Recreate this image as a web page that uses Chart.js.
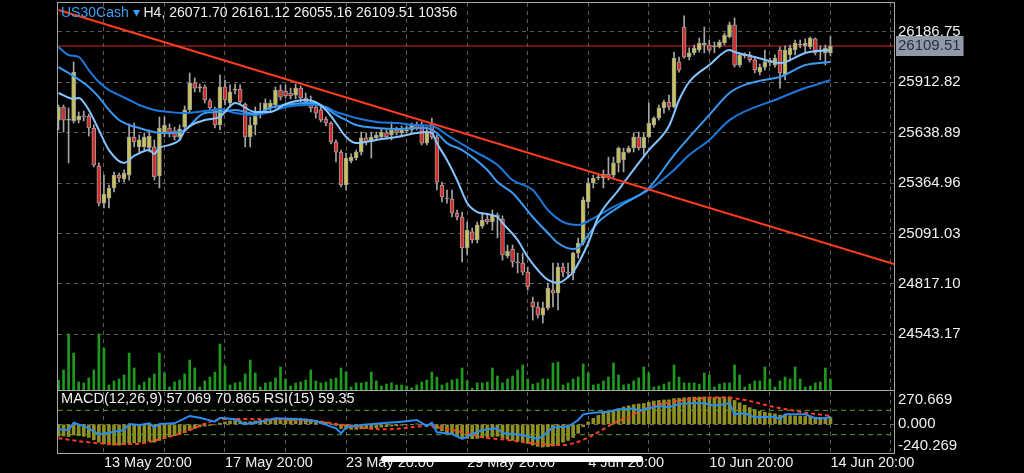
<!DOCTYPE html>
<html><head><meta charset="utf-8">
<script src="https://cdn.jsdelivr.net/npm/chart.js@4/dist/chart.umd.min.js"></script>
<style>
html,body{margin:0;padding:0;background:#000;width:1024px;height:473px;overflow:hidden}
#wrap{position:relative;width:1024px;height:473px;background:#000}
canvas{position:absolute;left:0}
#cMain{top:0}
#cMacd{top:391px}
#frame{position:absolute;left:57px;top:2px;width:838px;height:452px;box-sizing:border-box;border:1px solid #a8a8a8;pointer-events:none}
#sep{position:absolute;left:57px;top:390px;width:838px;height:1px;background:#a8a8a8}
#home{position:absolute;left:381px;top:456px;width:262px;height:6px;border-radius:3px;background:#fff}
</style></head><body>
<div id="wrap">
<canvas id="cMain" width="1024" height="392"></canvas>
<canvas id="cMacd" width="1024" height="82"></canvas>
<div id="frame"></div><div id="sep"></div><div id="home"></div>
</div>
<script>
// ---------- data (H4 bars, index 0 = first visible bar) ----------
const symbol = 'US30Cash';
const timeframe = 'H4';
const timeLabels = ['13 May 20:00','17 May 20:00','23 May 20:00','29 May 20:00','4 Jun 20:00','10 Jun 20:00','14 Jun 20:00'];
const timeLabelBars = [9,33,57,81,105,129,153];
const gridBars = [9,21,33,45,57,69,81,93,105,117,129,141,153,165];
const priceTicks = [26186.75,25912.82,25638.89,25364.96,25091.03,24817.10,24543.17];
const macdTicks = [270.669,0,-240.269];

const open = [25707,25778,25707,25702,25707,25729,25729,25664,25457,25256,
25283,25338,25408,25387,25408,25615,25561,25561,25555,25561,
25403,25637,25664,25648,25615,25669,25762,25909,25881,25887,
25811,25762,25680,25887,25800,25870,25876,25794,25615,25680,
25735,25762,25773,25789,25870,25865,25854,25843,25881,25827,
25805,25778,25762,25713,25691,25588,25533,25354,25485,25501,
25533,25610,25588,25610,25615,25637,25626,25653,25637,25648,
25653,25680,25680,25582,25686,25615,25354,25283,25278,25202,
25180,25012,25099,25055,25131,25169,25153,25191,25169,24968,
25006,24936,24930,24881,24718,24691,24647,24686,24783,24767,
24908,24881,24876,24984,25039,25262,25365,25392,25392,25414,
25408,25474,25490,25533,25555,25615,25555,25615,25680,25718,
25773,25805,25778,26023,26213,26050,26072,26088,26115,26115,
26104,26104,26126,26159,26224,26006,26055,26061,26034,25968,
25995,26023,26006,26088,25952,26061,26088,26115,26110,26104,
26148,26077,26072,26071.70];
const high = [25789,25789,25773,26023,25751,25756,25740,25680,25474,25408,
25354,25425,25419,25436,25686,25691,25626,25637,25653,25599,
25724,25724,25686,25669,25680,25784,25963,25936,25903,25898,
25822,25778,25952,25925,25898,25903,25898,25800,25724,25778,
25800,25822,25816,25887,25898,25898,25881,25903,25892,25854,
25838,25805,25789,25724,25697,25599,25544,25528,25523,25544,
25642,25637,25642,25642,25658,25653,25697,25669,25675,25675,
25691,25697,25697,25669,25718,25626,25370,25327,25327,25218,
25207,25153,25120,25153,25202,25191,25218,25202,25186,25028,
25028,24984,24984,24908,24745,24718,24718,24821,24930,24930,
24930,24930,24990,25066,25289,25392,25408,25414,25436,25506,
25506,25561,25555,25566,25637,25642,25637,25800,25724,25789,
25816,25843,26077,26050,26273,26099,26115,26153,26213,26142,
26131,26142,26180,26240,26262,26072,26072,26077,26050,26012,
26088,26044,26061,26104,26110,26115,26142,26142,26148,26159,
26153,26110,26115,26161.12];
const low = [25653,25642,25474,25691,25691,25702,25620,25452,25240,25229,
25229,25316,25370,25370,25381,25561,25533,25544,25533,25381,
25338,25615,25615,25599,25599,25653,25751,25860,25860,25800,
25762,25664,25653,25789,25778,25849,25789,25561,25561,25626,
25718,25745,25751,25773,25816,25827,25822,25822,25805,25789,
25751,25718,25697,25675,25577,25479,25343,25327,25474,25490,
25517,25572,25501,25599,25604,25604,25599,25626,25626,25637,
25642,25653,25572,25572,25604,25327,25262,25256,25180,25164,
24936,24974,25039,25039,25120,25142,25109,25066,24946,24957,
24908,24876,24865,24783,24620,24631,24604,24675,24691,24675,
24854,24849,24838,24957,25028,25229,25338,25381,25338,25381,
25392,25425,25425,25528,25533,25544,25517,25610,25669,25707,
25745,25762,25773,25968,26044,26034,26061,26077,26072,26077,
26072,26099,26115,26153,25995,25995,26044,26023,25963,25952,
25979,26001,25995,25881,25925,26034,26061,26099,26077,26093,
26061,26034,26006,26055.16];
const close = [25778,25707,25713,25968,25729,25724,25664,25463,25256,25305,
25338,25408,25392,25419,25615,25588,25599,25615,25620,25398,
25664,25680,25631,25615,25658,25762,25909,25881,25887,25816,
25773,25680,25887,25816,25860,25876,25805,25615,25680,25729,
25756,25800,25800,25870,25832,25838,25838,25881,25827,25805,
25773,25745,25707,25691,25588,25533,25354,25501,25506,25533,
25610,25588,25615,25626,25642,25615,25653,25637,25653,25653,
25680,25664,25582,25642,25615,25370,25289,25278,25202,25180,
25012,25109,25055,25137,25164,25153,25191,25180,24974,24995,
24936,24930,24881,24800,24691,24647,24686,24794,24767,24908,
24881,24876,24984,25039,25273,25365,25392,25398,25414,25398,
25474,25555,25533,25555,25615,25555,25615,25691,25718,25773,
25805,25778,26044,25979,26050,26072,26099,26126,26126,26088,
26110,26131,26169,26224,26006,26061,26061,26034,25979,25995,
26023,26017,26044,25963,26088,26099,26126,26120,26126,26153,
26072,26082,26099,26109.51];
const volume = [9400,18800,52700,34800,7500,6600,11300,18800,52700,39500,
4700,8500,10400,14100,34800,20700,4700,7500,11300,15100,
34800,16000,2800,7500,9400,15100,28200,20700,2800,8500,
12200,16900,43300,22600,4700,6600,7500,15100,28200,16000,
2800,6600,7500,11300,21600,10400,3800,6600,7500,9400,
18800,8500,6600,7500,10400,11300,20700,16900,2800,6600,
6600,7500,16900,8500,3800,5600,6600,4700,4700,3800,
1900,4700,7500,9400,16900,12200,4700,6600,9400,10400,
20700,8500,1900,6600,6600,7500,20700,13200,6600,10400,
13200,18800,23500,10400,5600,6600,10400,10400,25400,26300,
4700,6600,10400,12200,24500,16000,4700,5600,8500,12200,
25400,14100,4700,5600,8500,11300,21600,16000,2800,3800,
5600,7500,23500,12200,6600,6600,6600,5600,16000,14100,
2800,5600,6600,6600,23500,14100,2800,5600,8500,8500,
21600,10400,2800,8500,12200,10400,21600,10400,2800,3800,
6600,7500,20700,10356];

// moving averages (values read at selected bars)
const maFastIdx = [0,3,4,6,8,10,13,15,18,19,20,22,24,25,29,32,35,39,42,45,49,51,53,55,57,59,63,67,71,73,74,75,77,79,81,83,85,87,88,91,93,95,97,99,101,102,105,107,111,112,117,121,123,125,129,133,134,138,141,143,148,150,153];
const maFastVal = [25854,25822,25827,25762,25653,25544,25474,25512,25544,25523,25555,25572,25599,25648,25707,25724,25800,25751,25751,25794,25816,25805,25762,25691,25615,25582,25599,25615,25637,25642,25637,25582,25490,25381,25256,25207,25196,25180,25148,25055,24963,24892,24838,24821,24854,24881,25039,25180,25327,25365,25544,25675,25816,25914,26006,26088,26077,26050,26028,26017,26072,26082,26088];
const maMidIdx = [0,2,6,8,10,12,14,16,18,20,22,24,25,29,32,35,39,42,45,49,51,53,55,57,59,63,67,71,73,74,75,77,80,85,87,90,94,97,99,102,103,105,107,109,112,117,122,129,133,136,142,143,148,153];
const maMidVal = [25995,25963,25887,25832,25762,25707,25680,25664,25648,25637,25637,25642,25653,25745,25751,25762,25740,25773,25789,25800,25800,25773,25735,25707,25680,25664,25658,25664,25664,25653,25637,25582,25544,25436,25370,25311,25180,25093,25039,25006,25012,25082,25153,25197,25251,25338,25517,25735,25854,25898,25936,25941,26006,26023];
const maSlowIdx = [0,2,4,6,8,10,12,14,16,19,22,25,29,32,35,39,42,45,49,51,53,55,57,59,63,67,71,74,75,77,82,87,90,94,97,100,103,105,110,117,122,125,129,133,143,148,150,153];
const maSlowVal = [26104,26061,26050,25979,25914,25870,25843,25816,25789,25762,25751,25745,25756,25767,25745,25735,25751,25778,25789,25789,25778,25751,25735,25718,25697,25691,25680,25675,25664,25626,25544,25463,25381,25327,25218,25153,25137,25158,25235,25327,25436,25517,25599,25707,25827,25881,25898,25925];

// trend line anchors and current price
const trendIdx = [0,165.6];
const trendVal = [26305,24925];
const lastPrice = 26109.51;

// MACD(12,26,9) main (histogram), signal, RSI(15)
const macdHist = [-100,-98,-102,-90,-95,-100,-110,-130,-150,-165,
-172,-175,-175,-172,-160,-155,-150,-145,-140,-150,
-135,-120,-105,-95,-85,-70,-50,-35,-22,-15,
-10,-5,10,20,28,32,30,20,22,28,
32,38,42,48,50,50,50,52,50,46,
40,34,26,18,5,-10,-35,-40,-42,-42,
-38,-35,-32,-28,-24,-20,-15,-12,-8,-5,
0,2,-5,-8,-10,-35,-55,-70,-85,-95,
-115,-118,-120,-118,-112,-108,-102,-100,-115,-125,
-135,-142,-150,-160,-175,-185,-190,-188,-182,-172,
-150,-135,-110,-75,-20,20,50,75,95,105,
115,130,145,155,165,170,175,185,195,200,
205,205,215,218,222,225,228,228,230,228,
225,225,228,230,200,180,160,140,125,110,
102,95,88,78,76,72,70,68,66,64,
60,58,57,57.069];
const signalIdx = [0,8,15,18,22,26,30,32,35,41,46,52,55,58,61,65,68,73,75,78,81,84,88,90,96,100,103,106,110,113,116,120,126,131,136,141,145,149,153];
const signalVal = [-117,-159,-165,-146,-104,-48,22,42,44,42,36,22,3,-14,-34,-42,-34,-14,-25,-48,-75,-109,-126,-137,-168,-173,-146,-90,8,64,126,176,212,226,204,153,120,92,70.865];
const rsiIdx = [0,2,3,5,6,8,10,13,14,16,18,19,20,23,26,28,31,32,35,37,40,43,47,51,55,56,57,60,64,68,71,73,74,75,78,80,82,84,87,88,90,92,95,96,98,99,100,101,103,104,106,109,111,113,114,115,117,119,121,123,126,128,130,133,134,136,138,142,143,144,148,150,152,153];
const rsiVal = [38.9,37.7,49.7,44,40,30.7,33.3,37.7,47.5,45.9,48.7,42.1,47.5,48.7,60.7,57.9,51.3,57.9,55.2,47,51.3,56.9,55.7,52.5,40.5,32.3,42.1,45.9,48.7,51.3,54.1,44.3,49.7,33.9,31.1,23,30.7,37.7,40.5,32.3,31.1,29.5,23,27.9,42.1,42.1,43.1,43.1,54.1,63.4,66.1,67.7,71.6,71.6,73.3,69.3,73.3,77,74.9,80.3,81.5,81.5,77.5,81.5,63.4,65.1,58.5,59.5,55.2,63.4,63.4,56.9,56.9,59.35];
const rsiLevels = [70,30];

// ---------- chart construction ----------
Chart.defaults.font.family = '"Liberation Sans", Arial, sans-serif';
Chart.defaults.animation = false;
const xMin = -0.1, xMax = 165.6;
const yMin = 24239.9, yMax = 26343.3;
const volMax = 364200;
const last = close.length - 1;
const idx = close.map((_, i) => i);
const pts = (ix, vals) => ix.map((x, k) => ({x, y: vals[k]}));
const GRID = '#5a5a5a';
const TEXT = '#f0f0f0';
const noPad = s => { s.paddingTop = 0; s.paddingBottom = 0; };

const bodies = idx.map(i => ({x: i, y: [open[i], close[i]]}));
const wicks = idx.map(i => ({x: i, y: [low[i], high[i]]}));
const vols = idx.map(i => ({x: i, y: volume[i]}));
const bodyColors = idx.map(i => close[i] >= open[i] ? '#c9c452' : '#d42a2a');

const titleText = {
  id: 'titleText',
  afterDraw(chart) {
    const ctx = chart.ctx;
    ctx.save();
    ctx.font = '14px "Liberation Sans", Arial, sans-serif';
    ctx.textBaseline = 'middle';
    const sym = symbol + ' \u25BE';
    ctx.fillStyle = '#3aa0f5';
    ctx.fillText(sym, 61, 13);
    const w = ctx.measureText(sym + ' ').width;
    ctx.fillStyle = TEXT;
    const rest = timeframe + ', ' + open[last].toFixed(2) + ' ' + high[last].toFixed(2) + ' ' + low[last].toFixed(2) + ' ' + close[last].toFixed(2) + ' ' + volume[last];
    ctx.fillText(rest, 61 + w, 13);
    ctx.restore();
  }
};

new Chart(document.getElementById('cMain'), {
  type: 'bar',
  data: { datasets: [
    {type:'line', label:'trend', data: pts(trendIdx, trendVal), borderColor:'#ff3d1e', borderWidth:2, pointRadius:0, order:1},
    {type:'line', label:'MA fast', data: pts(maFastIdx, maFastVal), borderColor:'#86c5ff', borderWidth:2, pointRadius:0, tension:0.4, cubicInterpolationMode:'monotone', order:2},
    {type:'line', label:'MA mid', data: pts(maMidIdx, maMidVal), borderColor:'#3a9bf5', borderWidth:2, pointRadius:0, tension:0.4, cubicInterpolationMode:'monotone', order:2},
    {type:'line', label:'MA slow', data: pts(maSlowIdx, maSlowVal), borderColor:'#1b78de', borderWidth:2, pointRadius:0, tension:0.4, cubicInterpolationMode:'monotone', order:2},
    {type:'bar', label:'body', data: bodies, backgroundColor: bodyColors, borderColor:'#9c9c9c', borderWidth:1, borderSkipped:false, barThickness:4, grouped:false, minBarLength:1, order:3},
    {type:'bar', label:'wick', data: wicks, backgroundColor:'#a6a6a6', barThickness:1, grouped:false, order:4},
    {type:'line', label:'price', data: [{x:xMin,y:lastPrice},{x:xMax,y:lastPrice}], borderColor:'#d22a2a', borderWidth:1, pointRadius:0, order:5},
    {type:'bar', label:'volume', data: vols, yAxisID:'yVol', backgroundColor:'#1f9a1f', barThickness:2, grouped:false, order:6}
  ]},
  options: {
    responsive:false, animation:false, events:[],
    layout:{padding:{left:58, top:3, right:0, bottom:2}},
    plugins:{legend:{display:false}, tooltip:{enabled:false}},
    scales:{
      x:{type:'linear', position:'bottom', min:xMin, max:xMax, offset:false,
        afterBuildTicks: s => { s.ticks = gridBars.map(v => ({value:v})); },
        afterFit: s => { s.height = 0; s.paddingLeft = 0; s.paddingRight = 0; },
        ticks:{display:false},
        grid:{offset:false, color:GRID, lineWidth:1, drawTicks:false, borderDash:[4,4]},
        border:{display:false, dash:[4,4]}},
      y:{type:'linear', position:'right', min:yMin, max:yMax,
        afterBuildTicks: s => { s.ticks = priceTicks.concat([lastPrice]).map(v => ({value:v})); },
        afterFit: s => { s.width = 130; noPad(s); },
        ticks:{callback: v => Number(v).toFixed(2), padding:4, font:{size:15},
          color: c => (c.tick && c.tick.value === lastPrice) ? '#253039' : TEXT,
          showLabelBackdrop: c => !!(c.tick && c.tick.value === lastPrice),
          backdropColor:'#8e9aa8', backdropPadding:{top:1,bottom:1,left:2,right:3}},
        grid:{color: c => (c.tick && c.tick.value === lastPrice) ? 'rgba(0,0,0,0)' : GRID, drawTicks:false, borderDash:[4,4]},
        border:{display:false, dash:[4,4]}},
      yVol:{type:'linear', position:'left', display:false, min:0, max:volMax, afterFit: noPad}
    }
  },
  plugins:[titleText]
});

const macdText = {
  id: 'macdText',
  beforeDraw(chart) {
    const s = chart.scales.yM;
    const items = s.getLabelItems();
    items.forEach(it => {
      if (it.label === macdTicks[0].toFixed(3)) it.options.textBaseline = 'top';
      else if (it.label === macdTicks[2].toFixed(3)) it.options.textBaseline = 'bottom';
    });
  },
  afterDraw(chart) {
    const ctx = chart.ctx;
    ctx.save();
    ctx.font = '14.6px "Liberation Sans", Arial, sans-serif';
    ctx.textBaseline = 'middle';
    ctx.fillStyle = TEXT;
    ctx.fillText('MACD(12,26,9) ' + macdHist[last].toFixed(3) + ' ' + signalVal[signalVal.length-1].toFixed(3) + ' RSI(15) ' + rsiVal[rsiVal.length-1].toFixed(2), 61, 8);
    ctx.restore();
  }
};

new Chart(document.getElementById('cMacd'), {
  type: 'bar',
  data: { datasets: [
    {type:'line', label:'RSI(15)', data: pts(rsiIdx, rsiVal), yAxisID:'yR', borderColor:'#2a8cf5', borderWidth:2, pointRadius:0, order:1},
    {type:'line', label:'signal', data: pts(signalIdx, signalVal), yAxisID:'yM', borderColor:'#ff3c28', borderWidth:2, borderDash:[4,3], pointRadius:0, tension:0.4, cubicInterpolationMode:'monotone', order:2},
    {type:'line', label:'level 70', data: [{x:xMin,y:rsiLevels[0]},{x:xMax,y:rsiLevels[0]}], yAxisID:'yR', borderColor:'#5aa622', borderWidth:1, borderDash:[5,4], pointRadius:0, order:3},
    {type:'line', label:'level 30', data: [{x:xMin,y:rsiLevels[1]},{x:xMax,y:rsiLevels[1]}], yAxisID:'yR', borderColor:'#5aa622', borderWidth:1, borderDash:[5,4], pointRadius:0, order:3},
    {type:'bar', label:'MACD', data: idx.map(i => ({x:i, y:macdHist[i]})), yAxisID:'yM', backgroundColor:'#8f8f24', barThickness:3, grouped:false, order:4}
  ]},
  options: {
    responsive:false, animation:false, events:[],
    layout:{padding:{left:58, top:1, right:0, bottom:0}},
    plugins:{legend:{display:false}, tooltip:{enabled:false}},
    scales:{
      x:{type:'linear', position:'bottom', min:xMin, max:xMax, offset:false,
        afterBuildTicks: s => { s.ticks = gridBars.map(v => ({value:v})); },
        afterFit: s => { s.height = 20; s.paddingLeft = 0; s.paddingRight = 0; },
        ticks:{autoSkip:false, maxRotation:0, minRotation:0, align:'start', padding:1, color:TEXT, font:{size:14.5},
          callback: v => { const k = timeLabelBars.indexOf(v); return k >= 0 ? timeLabels[k] : ''; }},
        grid:{offset:false, color:GRID, lineWidth:1, drawTicks:false, borderDash:[4,4]},
        border:{display:false, dash:[4,4]}},
      yM:{type:'linear', position:'right', min:macdTicks[2], max:macdTicks[0],
        afterBuildTicks: s => { s.ticks = macdTicks.map(v => ({value:v})); },
        afterFit: s => { s.width = 130; noPad(s); },
        ticks:{callback: v => Number(v).toFixed(3), padding:4, font:{size:15}, color:TEXT},
        grid:{color: c => (c.tick && c.tick.value === 0) ? '#6a6a6a' : 'rgba(0,0,0,0)', drawTicks:false, borderDash:[4,4]},
        border:{display:false, dash:[4,4]}},
      yR:{type:'linear', position:'left', display:false, min:0, max:100, afterFit: noPad}
    }
  },
  plugins:[macdText]
});
</script>
</body></html>
